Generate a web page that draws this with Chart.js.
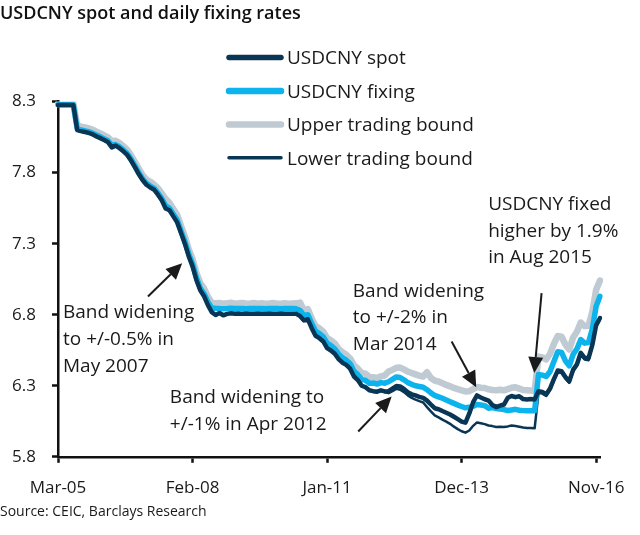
<!DOCTYPE html>
<html lang="en">
<head>
<meta charset="UTF-8" />
<title>USDCNY spot and daily fixing rates</title>
<script src="https://cdn.jsdelivr.net/npm/chart.js@4.4.1/dist/chart.umd.min.js"></script>
<style>
    html, body { margin: 0; padding: 0; background: #fff; }
    #board { width: 640px; height: 535px; }
</style>
</head>
<body>
<div id="board"><canvas id="chart1"></canvas></div>
<script>
// month index 0 = Mar-05, one value per month
const tickLabels = ['Mar-05', 'Feb-08', 'Jan-11', 'Dec-13', 'Nov-16'];
const tickMonths = [0, 35, 70, 105, 140];

const spot = [
    8.276, 8.276, 8.276, 8.276, 8.276, 8.100, 8.092, 8.086, 8.080, 8.070,
    8.055, 8.043, 8.030, 8.015, 7.978, 7.990, 7.972, 7.950, 7.925, 7.885,
    7.838, 7.790, 7.748, 7.715, 7.695, 7.680, 7.645, 7.605, 7.548, 7.535,
    7.492, 7.450, 7.375, 7.300, 7.212, 7.140, 7.045, 6.972, 6.930, 6.868,
    6.818, 6.798, 6.812, 6.796, 6.806, 6.810, 6.807, 6.809, 6.806, 6.808,
    6.807, 6.806, 6.808, 6.807, 6.806, 6.808, 6.807, 6.806, 6.808, 6.807,
    6.806, 6.807, 6.806, 6.790, 6.760, 6.768, 6.705, 6.652, 6.635, 6.612,
    6.565, 6.548, 6.525, 6.488, 6.462, 6.447, 6.420, 6.365, 6.340, 6.300,
    6.290, 6.268, 6.262, 6.258, 6.268, 6.260, 6.262, 6.280, 6.298, 6.295,
    6.278, 6.255, 6.240, 6.232, 6.222, 6.215, 6.195, 6.168, 6.142, 6.135,
    6.122, 6.110, 6.098, 6.082, 6.065, 6.048, 6.040, 6.105, 6.185, 6.232,
    6.218, 6.205, 6.196, 6.165, 6.150, 6.160, 6.168, 6.215, 6.228, 6.220,
    6.226, 6.206, 6.204, 6.206, 6.204, 6.262, 6.257, 6.240, 6.280, 6.347,
    6.407, 6.402, 6.362, 6.332, 6.412, 6.452, 6.532, 6.497, 6.492, 6.587,
    6.727, 6.777
];

const fixing = [
    8.277, 8.277, 8.277, 8.277, 8.277, 8.108, 8.100, 8.094, 8.088, 8.078,
    8.064, 8.052, 8.038, 8.024, 7.992, 7.998, 7.982, 7.960, 7.935, 7.895,
    7.848, 7.800, 7.757, 7.725, 7.706, 7.690, 7.656, 7.618, 7.565, 7.550,
    7.508, 7.466, 7.390, 7.316, 7.228, 7.157, 7.062, 6.988, 6.948, 6.890,
    6.848, 6.845, 6.843, 6.842, 6.843, 6.845, 6.843, 6.844, 6.843, 6.842,
    6.843, 6.844, 6.843, 6.843, 6.842, 6.843, 6.844, 6.843, 6.842, 6.843,
    6.844, 6.843, 6.842, 6.830, 6.792, 6.800, 6.738, 6.685, 6.668, 6.645,
    6.600, 6.583, 6.560, 6.522, 6.497, 6.480, 6.455, 6.402, 6.378, 6.345,
    6.338, 6.318, 6.320, 6.312, 6.322, 6.318, 6.328, 6.345, 6.362, 6.358,
    6.342, 6.322, 6.310, 6.300, 6.295, 6.290, 6.272, 6.250, 6.232, 6.222,
    6.212, 6.200, 6.188, 6.176, 6.164, 6.154, 6.145, 6.148, 6.156, 6.168,
    6.164, 6.160, 6.142, 6.146, 6.140, 6.136, 6.132, 6.126, 6.130, 6.134,
    6.128, 6.125, 6.124, 6.125, 6.124, 6.380, 6.375, 6.365, 6.400, 6.470,
    6.540, 6.535, 6.475, 6.440, 6.520, 6.560, 6.625, 6.600, 6.605, 6.700,
    6.860, 6.930
];

const upper = [
    8.285, 8.285, 8.285, 8.285, 8.285, 8.132, 8.124, 8.118, 8.112, 8.102,
    8.088, 8.076, 8.062, 8.048, 8.022, 8.024, 8.008, 7.986, 7.962, 7.922,
    7.876, 7.828, 7.782, 7.752, 7.736, 7.716, 7.690, 7.654, 7.615, 7.588,
    7.545, 7.503, 7.425, 7.352, 7.262, 7.193, 7.097, 7.024, 6.985, 6.926,
    6.884, 6.880, 6.882, 6.878, 6.880, 6.884, 6.878, 6.880, 6.883, 6.878,
    6.879, 6.882, 6.878, 6.880, 6.878, 6.879, 6.882, 6.878, 6.877, 6.880,
    6.878, 6.879, 6.880, 6.885, 6.828, 6.840, 6.774, 6.720, 6.704, 6.680,
    6.636, 6.620, 6.598, 6.560, 6.536, 6.518, 6.492, 6.445, 6.420, 6.390,
    6.385, 6.362, 6.360, 6.355, 6.366, 6.372, 6.400, 6.412, 6.426, 6.428,
    6.415, 6.400, 6.390, 6.380, 6.370, 6.365, 6.395, 6.356, 6.336, 6.330,
    6.318, 6.306, 6.296, 6.285, 6.276, 6.268, 6.260, 6.262, 6.276, 6.292,
    6.286, 6.284, 6.275, 6.270, 6.268, 6.272, 6.268, 6.276, 6.286, 6.290,
    6.280, 6.270, 6.268, 6.266, 6.265, 6.505, 6.500, 6.485, 6.525, 6.595,
    6.650, 6.645, 6.590, 6.555, 6.640, 6.680, 6.745, 6.720, 6.722, 6.820,
    6.975, 7.040
];

const lower = [
    8.270, 8.270, 8.270, 8.270, 8.270, 8.096, 8.088, 8.082, 8.076, 8.066,
    8.052, 8.040, 8.026, 8.012, 7.976, 7.986, 7.968, 7.946, 7.922, 7.882,
    7.836, 7.788, 7.745, 7.712, 7.692, 7.678, 7.640, 7.602, 7.546, 7.532,
    7.490, 7.448, 7.372, 7.298, 7.210, 7.138, 7.042, 6.970, 6.928, 6.865,
    6.815, 6.796, 6.810, 6.794, 6.804, 6.808, 6.805, 6.807, 6.804, 6.806,
    6.805, 6.804, 6.806, 6.805, 6.804, 6.806, 6.805, 6.804, 6.806, 6.805,
    6.804, 6.805, 6.804, 6.788, 6.758, 6.766, 6.703, 6.650, 6.633, 6.610,
    6.563, 6.546, 6.523, 6.486, 6.460, 6.445, 6.418, 6.363, 6.338, 6.298,
    6.288, 6.266, 6.260, 6.256, 6.266, 6.255, 6.248, 6.262, 6.278, 6.272,
    6.255, 6.232, 6.215, 6.203, 6.192, 6.182, 6.150, 6.120, 6.092, 6.078,
    6.062, 6.048, 6.032, 6.012, 5.995, 5.980, 5.970, 5.985, 6.018, 6.042,
    6.036, 6.030, 6.020, 6.016, 6.010, 6.012, 6.010, 6.014, 6.020, 6.016,
    6.012, 6.006, 6.002, 6.003, 6.001, 6.250, 6.245, 6.228, 6.268, 6.335,
    6.395, 6.390, 6.350, 6.320, 6.400, 6.440, 6.520, 6.485, 6.480, 6.575,
    6.715, 6.765
];

// month names for the category axis
const months = [];
for (let i = 0; i < spot.length; i++) {
    const d = new Date(2005, 2 + i, 1);
    months.push(d.toLocaleString('en', { month: 'short' }) + '-' + String(d.getFullYear()).slice(2));
}

const NAVY = '#0a3656';
const CYAN = '#0db3ec';
const GREY = '#bfcad3';
const INK = '#1a1a1a';

// legend drawn as stacked lines like the original
const legendLines = {
    id: 'legendLines',
    afterDraw(chart) {
        const ctx = chart.ctx;
        const widths = [5.5, 6.5, 6.5, 3.5];
        ctx.save();
        ctx.font = '19px "Open Sans"';
        ctx.fillStyle = INK;
        ctx.textBaseline = 'alphabetic';
        chart.data.datasets.forEach((ds, i) => {
            const y = 57.6 + i * 33.4;
            ctx.beginPath();
            ctx.strokeStyle = ds.borderColor;
            ctx.lineWidth = widths[i];
            ctx.lineCap = 'round';
            ctx.moveTo(229, y);
            ctx.lineTo(281, y);
            ctx.stroke();
            ctx.fillText(ds.label, 287, y + 6.7);
        });
        ctx.restore();
    }
};

// text notes and arrows, anchored in data units (month index, rate)
const notes = [
    { m: 1.3, v: 6.776, lines: ['Band widening', 'to +/-0.5% in', 'May 2007'] },
    { m: 29.1, v: 6.178, lines: ['Band widening to', '+/-1% in Apr 2012'] },
    { m: 76.7, v: 6.928, lines: ['Band widening', 'to +/-2% in', 'Mar 2014'] },
    { m: 111.9, v: 7.538, lines: ['USDCNY fixed', 'higher by 1.9%', 'in Aug 2015'] }
];
const arrows = [
    { from: [23.4, 6.928], to: [32.3, 7.163] },
    { from: [78.1, 5.978], to: [86.8, 6.224] },
    { from: [102.4, 6.611], to: [108.8, 6.290] },
    { from: [125.8, 6.952], to: [123.9, 6.389] }
];

const annotations = {
    id: 'annotations',
    afterDatasetsDraw(chart) {
        const { ctx, scales: { x, y } } = chart;
        ctx.save();
        ctx.fillStyle = INK;
        ctx.strokeStyle = INK;
        ctx.font = '19px "Open Sans"';
        ctx.textBaseline = 'alphabetic';
        notes.forEach(n => {
            const px = x.getPixelForValue(n.m);
            const py = y.getPixelForValue(n.v);
            n.lines.forEach((t, i) => ctx.fillText(t, px, py + i * 26.7));
        });
        arrows.forEach(a => {
            const x1 = x.getPixelForValue(a.from[0]), y1 = y.getPixelForValue(a.from[1]);
            const x2 = x.getPixelForValue(a.to[0]), y2 = y.getPixelForValue(a.to[1]);
            const ang = Math.atan2(y2 - y1, x2 - x1);
            const len = 16, half = 7.5;
            const bx = x2 - len * Math.cos(ang), by = y2 - len * Math.sin(ang);
            ctx.beginPath();
            ctx.lineWidth = 2;
            ctx.moveTo(x1, y1);
            ctx.lineTo(bx, by);
            ctx.stroke();
            ctx.beginPath();
            ctx.moveTo(x2, y2);
            ctx.lineTo(bx + half * Math.sin(ang), by - half * Math.cos(ang));
            ctx.lineTo(bx - half * Math.sin(ang), by + half * Math.cos(ang));
            ctx.closePath();
            ctx.fill();
        });
        ctx.restore();
    }
};

const tickFont = { family: 'Open Sans', size: 17 };
const axisGrid = { drawOnChartArea: false, drawTicks: true, tickLength: 6, tickWidth: 2.5, tickColor: '#111' };
const axisBorder = { display: true, color: '#111', width: 2.5 };

const line = (label, data, color, width) => ({
    label: label,
    data: data,
    borderColor: color,
    backgroundColor: color,
    borderWidth: width,
    pointRadius: 0,
    tension: 0,
    borderJoinStyle: 'round',
    borderCapStyle: 'round',
    fill: false
});

new Chart(document.getElementById('chart1'), {
    type: 'line',
    data: {
        labels: months,
        datasets: [
            line('USDCNY spot', spot, NAVY, 4.5),
            line('USDCNY fixing', fixing, CYAN, 5.5),
            line('Upper trading bound', upper, GREY, 6.5),
            line('Lower trading bound', lower, NAVY, 2.5)
        ]
    },
    options: {
        responsive: true,
        maintainAspectRatio: false,
        animation: false,
        layout: { padding: { left: 0, right: 40, top: 0, bottom: 0 } },
        plugins: {
            legend: { display: false },
            tooltip: { enabled: false },
            title: {
                display: true,
                text: 'USDCNY spot and daily fixing rates',
                align: 'start',
                color: '#111',
                font: { family: 'Open Sans', size: 18, weight: '600' },
                padding: { top: 3, bottom: 77 }
            },
            subtitle: {
                display: true,
                position: 'bottom',
                text: 'Source: CEIC, Barclays Research',
                align: 'start',
                color: INK,
                font: { family: 'Open Sans', size: 14 },
                padding: { top: 6, bottom: 15 }
            }
        },
        scales: {
            x: {
                type: 'category',
                ticks: {
                    autoSkip: false,
                    maxRotation: 0,
                    padding: 15,
                    color: INK,
                    font: tickFont,
                    callback: (v, i) => tickLabels[i]
                },
                afterBuildTicks(scale) {
                    scale.ticks = tickMonths.map(v => ({ value: v }));
                },
                afterFit(scale) {
                    scale.height = 40.4;
                },
                grid: axisGrid,
                border: axisBorder
            },
            y: {
                min: 5.8,
                max: 8.3,
                ticks: {
                    stepSize: 0.5,
                    padding: 16,
                    color: INK,
                    font: tickFont,
                    callback: v => v.toFixed(1)
                },
                afterFit(scale) {
                    scale.width = 58;
                },
                grid: axisGrid,
                border: axisBorder
            }
        }
    },
    plugins: [legendLines, annotations]
});
</script>
</body>
</html>
